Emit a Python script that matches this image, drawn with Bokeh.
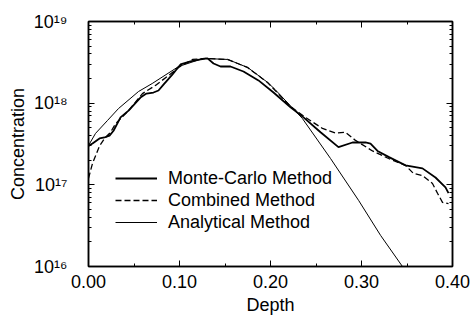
from bokeh.plotting import figure
from bokeh.models import (FixedTicker, LinearAxis, LogAxis, CustomJSTickFormatter,
                          Legend, LegendItem, Range1d)
from bokeh.embed import file_html
from bokeh.resources import INLINE

# ---- data ----
mc_depth = [0.000, 0.0044, 0.0121, 0.0176, 0.0231, 0.0275, 0.0352, 0.044, 0.0571, 0.0637,
            0.0714, 0.0769, 0.0824, 0.0923, 0.1011, 0.1121, 0.1231, 0.1308, 0.1374, 0.1451,
            0.156, 0.1703, 0.1868, 0.2033, 0.222, 0.2363, 0.255, 0.2747, 0.2901, 0.3044,
            0.3099, 0.3176, 0.3297, 0.3484, 0.367, 0.3813, 0.3923, 0.3956]
mc_conc = [3.0e17, 3.2e17, 3.7e17, 3.8e17, 4.0e17, 4.6e17, 6.7e17, 8.1e17, 1.17e18, 1.31e18,
           1.35e18, 1.43e18, 1.69e18, 2.25e18, 2.98e18, 3.24e18, 3.43e18, 3.53e18, 3.06e18, 2.81e18,
           2.81e18, 2.44e18, 1.90e18, 1.35e18, 8.9e17, 6.7e17, 4.4e17, 2.9e17, 3.3e17, 3.3e17,
           3.2e17, 2.6e17, 2.2e17, 1.73e17, 1.59e17, 1.23e17, 9.3e16, 7.9e16]

comb_depth = [0.000, 0.0044, 0.0088, 0.0121, 0.0176, 0.0242, 0.0297, 0.044, 0.0593, 0.0736,
              0.0879, 0.0989, 0.1143, 0.1286, 0.1527, 0.1747, 0.1967, 0.222, 0.2385, 0.2571,
              0.2714, 0.2824, 0.2934, 0.3121, 0.3297, 0.3484, 0.3571, 0.367, 0.378, 0.3835,
              0.389, 0.3956]
comb_conc = [1.2e17, 1.83e17, 2.42e17, 3.0e17, 3.7e17, 4.4e17, 5.6e17, 8.1e17, 1.31e18, 1.65e18,
             2.18e18, 2.74e18, 3.43e18, 3.53e18, 3.43e18, 2.74e18, 1.79e18, 9.1e17, 6.7e17, 4.9e17,
             4.3e17, 4.4e17, 3.5e17, 2.6e17, 2.1e17, 1.73e17, 1.38e17, 1.30e17, 1.04e17, 7.9e16,
             6.1e16, 5.9e16]

ana_depth = [0.000, 0.0077, 0.0209, 0.033, 0.055, 0.070, 0.099, 0.126, 0.153, 0.175,
             0.197, 0.205, 0.235, 0.266, 0.297, 0.321, 0.345]
ana_conc = [3.03e17, 4.26e17, 6.14e17, 8.6e17, 1.39e18, 1.74e18, 2.81e18, 3.53e18, 3.43e18, 2.73e18,
            1.79e18, 1.47e18, 6.5e17, 2.1e17, 6.4e16, 2.4e16, 1.0e16]

series_names = ["Monte-Carlo Method", "Combined Method", "Analytical Method"]

x_ticks = [0.0, 0.1, 0.2, 0.3, 0.4]
x_minor = [0.05, 0.15, 0.25, 0.35]
x_tick_labels = ["0.00", "0.10", "0.20", "0.30", "0.40"]
y_ticks = [1e16, 1e17, 1e18, 1e19]
y_tick_labels = ["10\u00b9\u2076", "10\u00b9\u2077", "10\u00b9\u2078", "10\u00b9\u2079"]
y_minor = [m * 10.0 ** e for e in (16, 17, 18) for m in range(2, 10)]

FONT = "Liberation Sans"

p = figure(width=472, height=318, y_axis_type="log", title=None,
           x_range=Range1d(0.0, 0.4), y_range=Range1d(1e16, 1e19),
           output_backend="svg", toolbar_location=None,
           min_border_left=88, min_border_right=20, min_border_top=21, min_border_bottom=52)
p.grid.visible = False
p.outline_line_color = "black"
p.outline_line_width = 1.5
p.background_fill_color = "white"

r1 = p.line(mc_depth, mc_conc, line_color="black", line_width=1.8)
r2 = p.line(comb_depth, comb_conc, line_color="black", line_width=1.3, line_dash="6 3")
r3 = p.line(ana_depth, ana_conc, line_color="black", line_width=1.0)


def style_axis(ax):
    ax.axis_line_color = "black"
    ax.axis_line_width = 1.5
    ax.major_tick_in = 6
    ax.major_tick_out = 0
    ax.minor_tick_in = 3
    ax.minor_tick_out = 0
    ax.major_tick_line_color = "black"
    ax.minor_tick_line_color = "black"
    ax.major_label_text_font = FONT
    ax.major_label_text_font_size = "18px"
    ax.major_label_text_color = "black"
    ax.axis_label_text_font = FONT
    ax.axis_label_text_font_size = "18px"
    ax.axis_label_text_font_style = "normal"
    ax.axis_label_text_color = "black"


xa = p.xaxis[0]
xa.ticker = FixedTicker(ticks=x_ticks, minor_ticks=x_minor)
xa.major_label_overrides = dict(zip(x_ticks, x_tick_labels))
xa.axis_label = "Depth"
style_axis(xa)
xa.major_label_standoff = 8
xa.axis_label_standoff = 4

ya = p.yaxis[0]
ya.ticker = FixedTicker(ticks=y_ticks, minor_ticks=y_minor)
ya.major_label_overrides = dict(zip(y_ticks, y_tick_labels))
ya.axis_label = "Concentration"
style_axis(ya)
ya.major_label_standoff = 21
ya.axis_label_standoff = 3

blank = "return ''"
top = LinearAxis(ticker=FixedTicker(ticks=x_ticks, minor_ticks=x_minor),
                 formatter=CustomJSTickFormatter(code=blank))
style_axis(top)
top.major_label_standoff = 0
p.add_layout(top, "above")

right = LogAxis(ticker=FixedTicker(ticks=y_ticks, minor_ticks=y_minor),
                formatter=CustomJSTickFormatter(code=blank))
style_axis(right)
right.major_label_standoff = 0
p.add_layout(right, "right")

legend = Legend(items=[LegendItem(label=series_names[0], renderers=[r1]),
                       LegendItem(label=series_names[1], renderers=[r2]),
                       LegendItem(label=series_names[2], renderers=[r3])],
                location=(27, 33), padding=0, margin=0, spacing=0,
                glyph_width=42, glyph_height=22, label_height=22, label_standoff=11,
                border_line_alpha=0, background_fill_alpha=0,
                label_text_font=FONT, label_text_font_size="18px", label_text_color="black")
p.add_layout(legend)

open("out.html", "w").write(file_html(p, INLINE))
